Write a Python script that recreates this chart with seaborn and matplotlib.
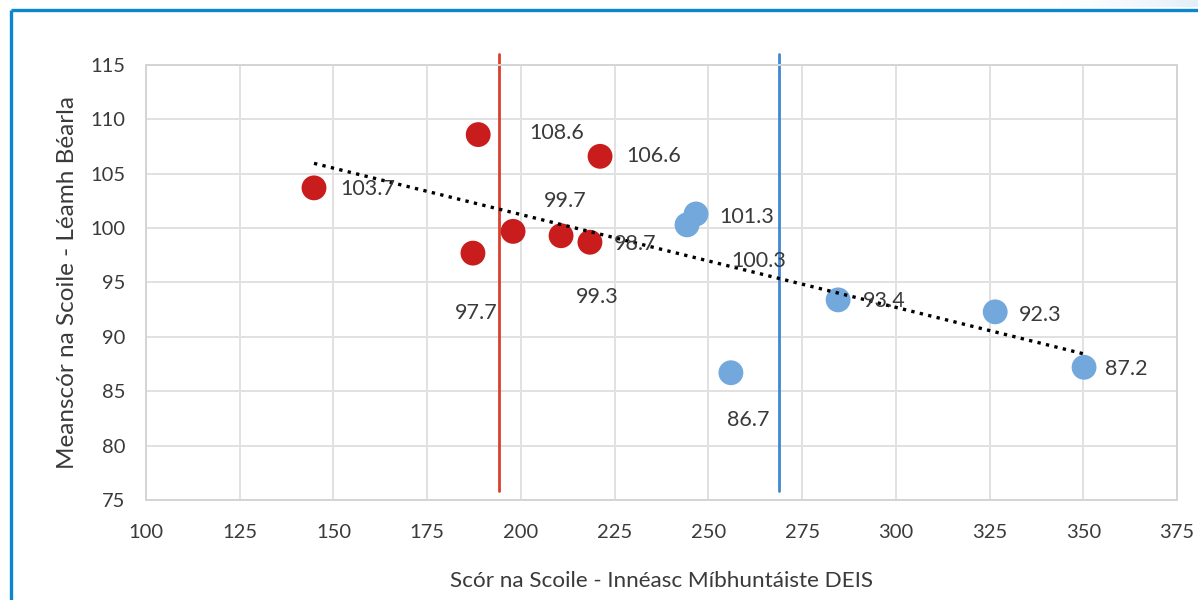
import numpy as np
import pandas as pd
import matplotlib
matplotlib.use("Agg")
import matplotlib.pyplot as plt
import seaborn as sns
from matplotlib.lines import Line2D

# School scores: DEIS disadvantage index (x) vs mean English reading score (y)
red_x = [144.8, 188.6, 221.1, 187.2, 197.9, 210.7, 218.4]
red_y = [103.7, 108.6, 106.6, 97.7, 99.7, 99.3, 98.7]
blue_x = [246.7, 244.3, 256.0, 284.6, 326.5, 350.2]
blue_y = [101.3, 100.3, 86.7, 93.4, 92.3, 87.2]

# Band thresholds drawn as vertical lines
red_threshold = 194.2
blue_threshold = 268.8

x_ticks = [100, 125, 150, 175, 200, 225, 250, 275, 300, 325, 350, 375]
y_ticks = [75, 80, 85, 90, 95, 100, 105, 110, 115]

x_label = "Scór na Scoile - Innéasc Míbhuntáiste DEIS"
y_label = "Meanscór na Scoile - Léamh Béarla"

# label offsets (points) for each value label
red_offsets = [(19, -1), (37, 1), (19, 0), (-13, -43), (22, 22), (11, -44), (17, -1)]
blue_offsets = [(17, -2), (32, -26), (-3, -34), (18, -1), (17, -2), (15, -1)]

sns.set_theme(style="white")
plt.rcParams["font.family"] = ["Lato", "DejaVu Sans"]

df = pd.DataFrame({
    "x": red_x + blue_x,
    "y": red_y + blue_y,
    "grp": ["red"] * len(red_x) + ["blue"] * len(blue_x),
})

fig = plt.figure(figsize=(11.98, 6.0), dpi=100)
ax = fig.add_axes([0.1219, 0.1667, 0.9825 - 0.1219, 0.8917 - 0.1667])

red_c = "#c91c1c"
blue_c = "#72a8dc"
text_c = "#3a3a3a"

ax.set_xlim(100, 375)
ax.set_ylim(75, 115)
ax.set_xticks(x_ticks)
ax.set_yticks(y_ticks)
ax.grid(True, color="#e1e1e1", linewidth=1.4)
ax.set_axisbelow(True)
for s in ax.spines.values():
    s.set_color("#d4d4d4")
    s.set_linewidth(1.4)

# threshold lines
ax.axvline(red_threshold, ymin=0.02, ymax=1.025, color="#d9412b", lw=2.0, clip_on=False, zorder=2)
ax.axvline(blue_threshold, ymin=0.02, ymax=1.025, color="#3f88d2", lw=2.0, clip_on=False, zorder=2)

sns.scatterplot(data=df, x="x", y="y", hue="grp",
                palette={"red": red_c, "blue": blue_c},
                s=320, linewidth=0, legend=False, ax=ax, zorder=3)

# linear trend line through all schools
sns.regplot(data=df, x="x", y="y", scatter=False, ci=None, truncate=True, ax=ax,
            line_kws=dict(color="black", lw=2.4, linestyle=(0, (1, 1.6)), zorder=4))

for xs, ys, offs in ((red_x, red_y, red_offsets), (blue_x, blue_y, blue_offsets)):
    for xv, yv, (dx, dy) in zip(xs, ys, offs):
        ax.annotate(f"{yv:.1f}", (xv, yv), xytext=(dx, dy), textcoords="offset points",
                    ha="left", va="center", fontsize=15.5, color=text_c, zorder=5)

ax.set_xlabel(x_label, fontsize=16.2, color=text_c, labelpad=22)
ax.set_ylabel(y_label, fontsize=17.5, color=text_c, labelpad=9)
ax.tick_params(axis="both", labelsize=14.5, colors=text_c, length=0)
ax.tick_params(axis="x", pad=17)
ax.tick_params(axis="y", pad=15)

# soft highlight along the top-right edge
grad = np.linspace(0, 1, 256)[None, :] ** 2
gax = fig.add_axes([0.85, 0.988, 0.15, 0.012])
gax.imshow(grad, aspect="auto", cmap=matplotlib.colors.LinearSegmentedColormap.from_list(
    "edge", ["#ffffff", "#e3eef9"]), extent=(0, 1, 0, 1))
gax.set_axis_off()

# blue frame around the figure
fig.add_artist(Line2D([0.0093, 0.0093], [0.0, 0.9835], transform=fig.transFigure,
                      color="#0a86d2", lw=2.4, solid_capstyle="butt"))
fig.add_artist(Line2D([0.0093, 1.0], [0.9835, 0.9835], transform=fig.transFigure,
                      color="#0a86d2", lw=2.4, solid_capstyle="butt"))

fig.savefig("out.png", dpi=100)
